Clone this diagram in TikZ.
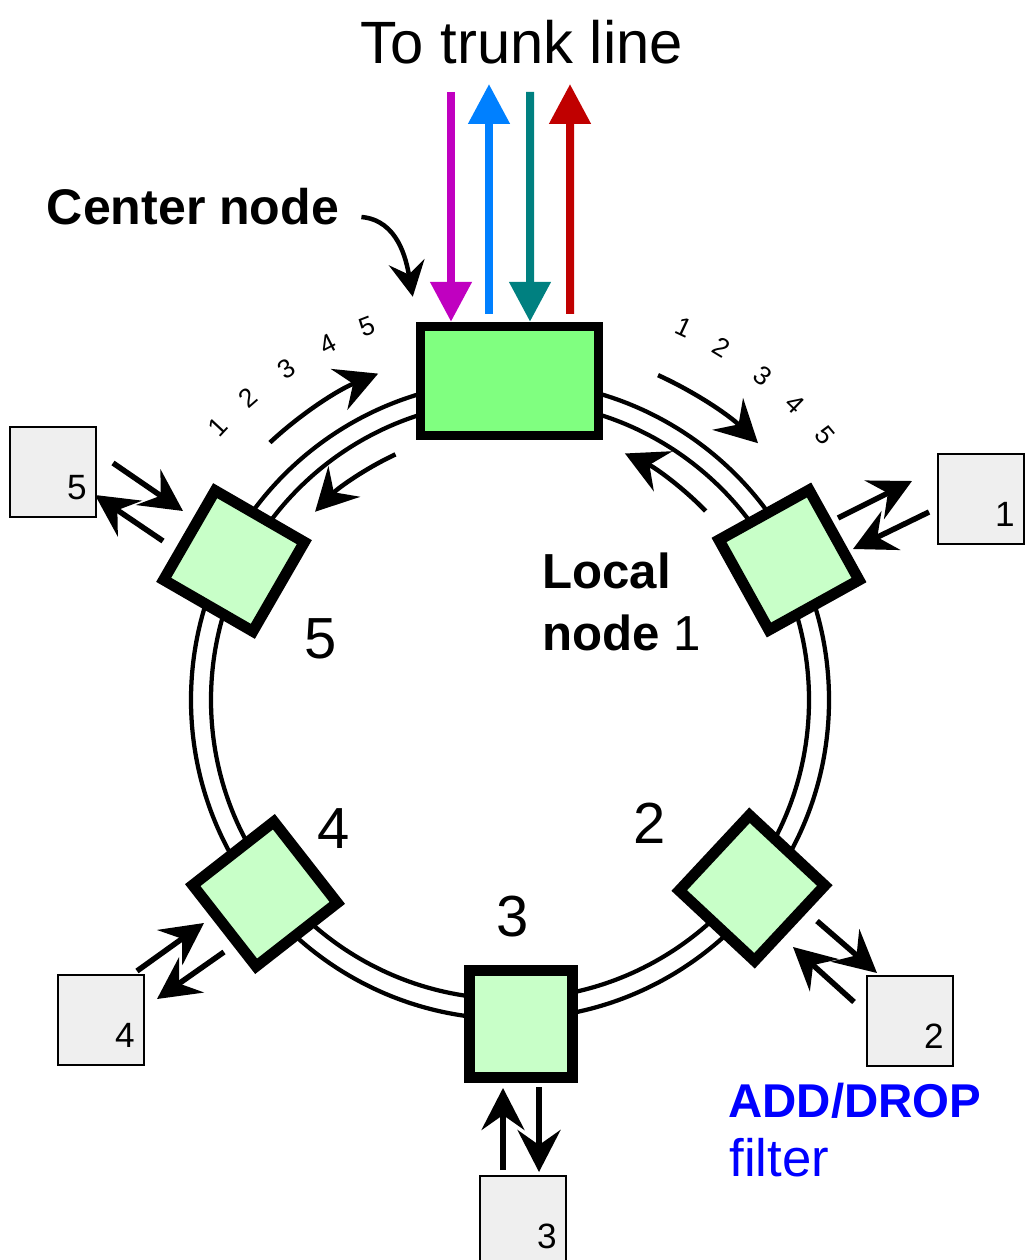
\documentclass[tikz,border=0pt]{standalone}
\usepackage{fontspec}
\setmainfont{Liberation Sans}
\usetikzlibrary{arrows.meta}
\definecolor{trunkmag}{RGB}{192,0,192}
\definecolor{trunkblue}{RGB}{0,128,255}
\definecolor{trunkteal}{RGB}{0,128,128}
\definecolor{trunkred}{RGB}{192,0,0}
\definecolor{localfill}{RGB}{200,255,200}
\definecolor{hubfill}{RGB}{128,255,128}
\definecolor{termfill}{RGB}{239,239,239}
\definecolor{addblue}{RGB}{0,0,255}
\newcommand\sizept[1]{\fontsize{#1}{#1}\selectfont}
\begin{document}
\begin{tikzpicture}[
x=0.02cm, y=0.02cm,
ring/.style={line width=0.085cm},
hubbox/.style={draw, line width=0.19cm, fill=hubfill, minimum width=3.56cm, minimum height=2.18cm, inner sep=0pt},
local/.style={draw, line width=0.22cm, fill=localfill, minimum size=2.06cm, inner sep=0pt},
term/.style={draw, line width=0.04cm, fill=termfill, minimum width=1.72cm, minimum height=1.8cm, inner sep=0pt},
termnum/.style={anchor=south east, inner sep=0pt, xshift=-0.2cm, yshift=0.36cm, font=\sizept{20}},
ringarrow/.style={line width=0.09cm, -{Stealth[length=0.84cm,width=0.88cm,inset=0.3cm]}},
pointer/.style={line width=0.09cm, -{Stealth[length=0.7cm,width=0.72cm,inset=0.25cm]}},
adddrop/.style={line width=0.11cm, -{Stealth[length=0.84cm,width=0.86cm,inset=0.3cm]}},
trunk/.style={line width=0.16cm, -{Triangle[length=0.8cm,width=0.8cm]}},
tick/.style={font=\sizept{15}, inner sep=0pt},
bignum/.style={font=\sizept{33}, inner sep=0pt}
]
\useasboundingbox (0,0) rectangle (1024,-1260);
\coordinate (o) at (510,-700);
\draw[ring] (o) circle[radius=299] (o) circle[radius=319];

\node[hubbox] (cn) at (509.5,-381) {};
\node[local, rotate=29] (n1) at (789,-560) {};
\node[local, rotate=47] (n2) at (752,-888) {};
\node[local, minimum height=2.14cm] (n3) at (521,-1024) {};
\node[local, rotate=38] (n4) at (265,-894) {};
\node[local, rotate=-30] (n5) at (234,-561) {};

\node[term, label={[termnum]south east:1}] (t1) at (981,-499) {};
\node[term, label={[termnum]south east:2}] (t2) at (910,-1021) {};
\node[term, label={[termnum]south east:3}] (t3) at (523,-1221) {};
\node[term, label={[termnum]south east:4}] (t4) at (101,-1020) {};
\node[term, label={[termnum]south east:5}] (t5) at (53,-472) {};

\foreach \n/\ax/\ay/\bx/\by in {5a/113/-463/183/-511, 5b/163/-541/95/-495,
  1a/838/-518/912/-481, 1b/929/-512/853/-549, 2a/817/-921/877/-973,
  2b/854/-1002/793/-947, 4a/137/-971/204/-923, 4b/224/-952/157/-999,
  3a/503/-1170/503/-1088, 3b/539/-1087/539/-1172}
{
\coordinate (s\n) at (\ax,\ay);
\coordinate (e\n) at (\bx,\by);
\draw[adddrop] (s\n) -- (e\n);
}

\coordinate (mtop) at (451,-92);
\coordinate (btop) at (489,-84);
\coordinate (ttop) at (530,-92);
\coordinate (rtop) at (570,-84);
\draw[trunk, trunkmag] (mtop) -- ([shift={(-58.5,0)}]cn.north);
\draw[trunk, trunkblue] ([shift={(-20.5,8)}]cn.north) -- (btop);
\draw[trunk, trunkteal] (ttop) -- ([shift={(20.5,0)}]cn.north);
\draw[trunk, trunkred] ([shift={(60.5,8)}]cn.north) -- (rtop);

\draw[ringarrow] ([shift={(133:352)}]o) arc[start angle=133, end angle=112, radius=352];
\draw[ringarrow] ([shift={(115:271)}]o) arc[start angle=115, end angle=136, radius=271];
\draw[ringarrow] ([shift={(65.5:357)}]o) arc[start angle=65.5, end angle=46, radius=357];
\draw[ringarrow] ([shift={(44:272)}]o) arc[start angle=44, end angle=65, radius=272];

\foreach \i/\a in {1/137,2/131,3/124,4/117,5/111}
\node[tick, rotate=\a-90] (tl\i) at ([shift={(\a:400)}]o) {\i};
\foreach \i/\a in {1/65,2/59,3/52,4/46,5/40}
\node[tick, rotate=\a-90] (tr\i) at ([shift={(\a:411)}]o) {\i};

\node[font=\sizept{34}] (title) at (522,-42) {To trunk line};
\node[font=\bfseries\sizept{28.5}, inner sep=0pt] (cnlabel) at (193,-207) {Center node};
\draw[pointer] ([shift={(22,-10)}]cnlabel.east) to[out=-5, in=100] ([shift={(-3,25)}]cn.north west);

\node[bignum] (l5) at (321,-639) {5};
\node[bignum] (l4) at (334,-829) {4};
\node[bignum] (l3) at (513,-917) {3};
\node[bignum] (l2) at (650,-823) {2};
\node[align=left, anchor=west, inner sep=0pt, font=\fontsize{28}{35}\selectfont] (l1) at (542,-602) {\bfseries Local\\\bfseries node {\normalfont 1}};

\node[anchor=west, inner sep=0pt, text=addblue, font=\bfseries\sizept{27}] (adl) at (728,-1101) {ADD/DROP};
\node[anchor=west, inner sep=0pt, text=addblue, font=\sizept{30}] (fl) at (729,-1158) {filter};
\end{tikzpicture}
\end{document}
